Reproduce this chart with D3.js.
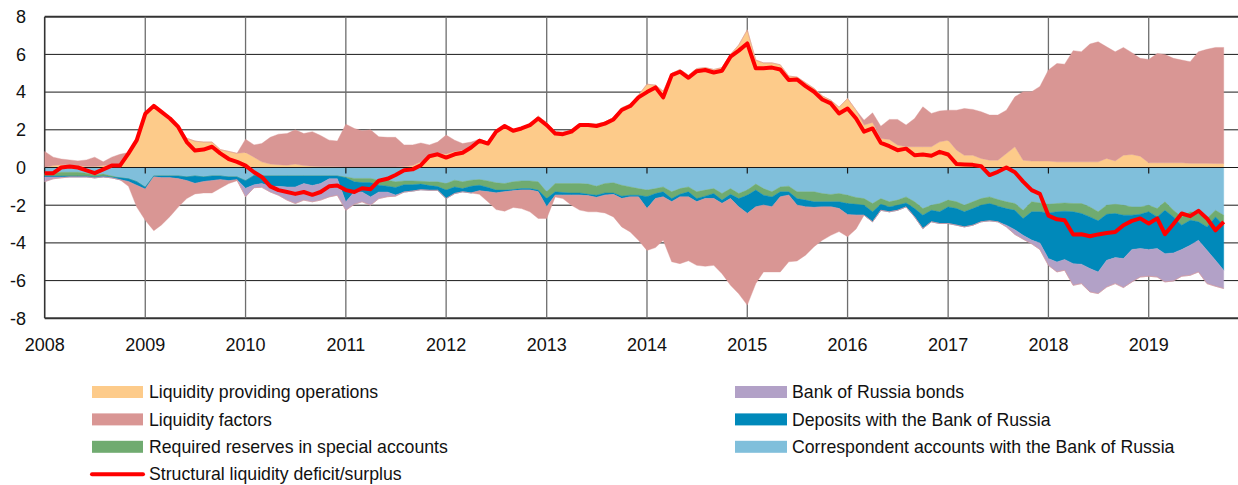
<!DOCTYPE html>
<html>
<head>
<meta charset="utf-8">
<script src="https://cdn.jsdelivr.net/npm/d3@7"></script>
<style>
  body { margin: 0; background: #fff; }
  svg text { font-family: "Liberation Sans", Arial, sans-serif; font-size: 18px; fill: #111; }
  svg text.legend { font-size: 17.7px; }
</style>
</head>
<body>
<div id="chart-area"></div>
<script>
// monthly points, Jan 2008 .. Oct 2019 (trillions of rubles)
var years = [2008, 2009, 2010, 2011, 2012, 2013, 2014, 2015, 2016, 2017, 2018, 2019];
var yTicks = [8, 6, 4, 2, 0, -2, -4, -6, -8];

var ops = [0, 0.1, 0.15, 0.15, 0.1, 0.05, 0.05, 0.1, 0.15, 0.15, 0.8, 1.5,
  2.9, 3.3, 3.0, 2.6, 2.2, 1.55, 1.4, 1.35, 1.35, 0.95, 0.85, 0.75,
  0.8, 0.55, 0.3, 0.18, 0.15, 0.12, 0.18, 0.1, 0.07, 0.05, 0.05, 0.04,
  0.03, 0.03, 0.02, 0.02, 0.02, 0.02, 0.02, 0.05, 0.1, 0.3, 0.6, 0.75,
  0.72, 0.85, 0.92, 1.1, 1.5, 1.36, 1.95, 2.25, 2.0, 2.12, 2.3, 2.73,
  2.37, 1.9, 1.88, 1.98, 2.33, 2.33, 2.3, 2.42, 2.65, 3.17, 3.36, 3.84,
  4.42, 4.37, 4.05, 5.0, 5.2, 4.9, 5.25, 5.3, 5.2, 5.3, 6.0, 6.5,
  7.3, 5.7, 5.55, 5.55, 5.45, 4.85, 4.8, 4.5, 4.2, 3.8, 3.57, 3.2,
  3.66, 3.04, 2.25, 2.39, 1.54, 1.49, 1.19, 1.1, 1.1, 1.1, 1.1, 1.36,
  1.45, 0.92, 0.65, 0.65, 0.48, 0.39, 0.39, 0.74, 1.1, 0.39, 0.34, 0.34,
  0.34, 0.3, 0.3, 0.3, 0.3, 0.3, 0.3, 0.48, 0.35, 0.65, 0.69, 0.6,
  0.25, 0.25, 0.25, 0.25, 0.25, 0.22, 0.22, 0.22, 0.21, 0.21];

var factors = [0.85, 0.45, 0.3, 0.25, 0.25, 0.35, 0.5, 0.2, 0.4, 0.55, -0.25, -1.15,
  -1.65, -2.85, -2.5, -2.05, -1.5, -0.95, -0.55, -0.6, -0.65, -0.45, -0.15, -0.05,
  0.7, 0.65, 0.97, 1.42, 1.62, 1.68, 1.82, 1.7, 1.83, 1.65, 1.4, 1.36,
  2.27, 2.04, 1.93, 1.98, 1.61, 1.58, 1.58, 1.15, 1.1, 1.0, 0.6, 0.6,
  1.0, 0.6, 0.35, 0.25, -0.18, -0.53, -0.88, -1.03, -0.88, -0.98, -1.15, -1.41,
  -0.61, -0.09, -0.18, -0.53, -0.79, -0.85, -0.76, -0.94, -1.19, -1.5, -1.86, -2.3,
  -2.22, -2.6, -2.3, -3.18, -3.54, -3.39, -3.37, -3.59, -3.54, -3.72, -4.6, -4.61,
  -4.86, -4.07, -3.54, -3.45, -3.98, -3.53, -2.96, -2.56, -2.08, -1.77, -1.51, -1.22,
  -1.17, -0.73, 0.26, 0.51, 0.65, 1.06, 1.36, 1.15, 1.5, 2.12, 1.77, 1.64,
  1.59, 2.12, 2.48, 2.43, 2.48, 2.39, 2.39, 2.3, 2.65, 3.63, 3.68, 3.96,
  4.83, 5.22, 5.18, 5.9, 5.84, 6.25, 6.37, 5.92, 5.79, 5.72, 5.4, 5.19,
  5.48, 5.8, 5.75, 5.54, 5.45, 5.39, 5.92, 6.05, 6.16, 6.16];

var corr = [-0.3, -0.3, -0.25, -0.25, -0.25, -0.3, -0.4, -0.35, -0.45, -0.55, -0.6, -0.75,
  -1.05, -0.45, -0.45, -0.45, -0.45, -0.5, -0.45, -0.5, -0.45, -0.45, -0.5, -0.5,
  -0.7, -0.42, -0.45, -0.45, -0.45, -0.45, -0.45, -0.45, -0.45, -0.45, -0.45, -0.45,
  -0.5, -0.58, -0.58, -0.58, -0.67, -0.67, -0.76, -0.71, -0.71, -0.73, -0.76, -0.76,
  -0.85, -0.67, -0.76, -0.67, -0.64, -0.71, -0.81, -0.85, -0.76, -0.71, -0.71, -0.76,
  -1.29, -0.85, -0.85, -0.85, -0.85, -0.88, -0.99, -0.85, -0.81, -0.94, -1.03, -1.12,
  -1.2, -1.12, -1.03, -1.29, -1.12, -1.03, -1.29, -1.2, -1.12, -1.38, -1.12, -1.38,
  -1.2, -0.88, -1.12, -1.29, -1.03, -0.99, -1.29, -1.29, -1.29, -1.38, -1.43, -1.38,
  -1.47, -1.59, -1.65, -1.91, -1.65, -1.82, -1.73, -1.56, -1.82, -2.18, -2.0, -1.91,
  -1.73, -1.82, -2.0, -1.82, -1.65, -1.56, -1.7, -1.82, -1.91, -2.27, -1.82, -1.88,
  -1.95, -1.91, -1.88, -1.91, -1.91, -2.09, -2.35, -2.0, -1.95, -2.0, -2.09, -2.09,
  -2.0, -2.18, -1.82, -2.27, -2.62, -2.35, -2.44, -2.71, -2.27, -2.53];

var reserves = [-0.15, -0.15, -0.2, -0.2, -0.2, -0.15, -0.1, -0.1, -0.05, 0, 0, 0,
  0, 0, 0, 0, 0, 0, 0, 0, 0, 0, 0, 0,
  0, 0, 0, 0, 0, 0, 0, 0, 0, 0, 0, 0,
  -0.05, -0.18, -0.22, -0.22, -0.27, -0.32, -0.3, -0.2, -0.2, -0.15, -0.2, -0.25,
  -0.35, -0.36, -0.36, -0.32, -0.3, -0.35, -0.39, -0.35, -0.41, -0.41, -0.41, -0.44,
  -0.36, -0.44, -0.48, -0.5, -0.5, -0.54, -0.48, -0.5, -0.54, -0.58, -0.44, -0.35,
  -0.35, -0.26, -0.26, -0.36, -0.3, -0.26, -0.36, -0.32, -0.26, -0.35, -0.3, -0.27,
  -0.27, -0.32, -0.35, -0.27, -0.26, -0.3, -0.36, -0.44, -0.53, -0.44, -0.39, -0.44,
  -0.44, -0.36, -0.35, -0.44, -0.3, -0.27, -0.27, -0.32, -0.36, -0.35, -0.27, -0.44,
  -0.36, -0.36, -0.35, -0.36, -0.35, -0.35, -0.35, -0.36, -0.36, -0.44, -0.53, -0.47,
  -0.46, -0.44, -0.44, -0.44, -0.53, -0.53, -0.48, -0.48, -0.49, -0.53, -0.44, -0.39,
  -0.35, -0.44, -0.45, -0.35, -0.44, -0.45, -0.44, -0.44, -0.35, -0.53];

var deposits = [-0.05, -0.05, -0.05, -0.05, -0.05, -0.05, -0.05, -0.05, -0.05, -0.1, -0.15, -0.2,
  -0.1, -0.05, -0.1, -0.1, -0.15, -0.2, -0.4, -0.25, -0.25, -0.2, -0.2, -0.15,
  -0.4, -0.5, -0.4, -0.55, -0.55, -0.58, -0.58, -0.4, -0.5, -0.4, -0.15, -0.15,
  -1.27, -0.53, -0.5, -0.76, -0.36, -0.31, -0.4, -0.39, -0.34, -0.3, -0.25, -0.2,
  -0.45, -0.35, -0.17, -0.36, -0.3, -0.23, -0.15, -0.09, -0.07, -0.08, -0.08, -0.09,
  -0.44, -0.18, -0.14, -0.12, -0.12, -0.08, -0.12, -0.12, -0.08, -0.13, -0.09, -0.09,
  -0.63, -0.27, -0.27, -0.17, -0.14, -0.27, -0.17, -0.13, -0.27, -0.18, -0.23, -0.44,
  -0.97, -0.89, -0.53, -0.53, -0.27, -0.18, -0.35, -0.36, -0.3, -0.27, -0.27, -0.36,
  -0.59, -0.58, -0.53, -0.53, -0.32, -0.26, -0.27, -0.21, -0.44, -0.71, -0.61, -0.62,
  -0.88, -0.88, -0.8, -0.88, -0.88, -0.92, -0.83, -0.88, -1.03, -0.89, -1.5, -1.65,
  -2.42, -2.66, -2.56, -2.75, -2.69, -2.74, -2.71, -2.44, -2.34, -2.3, -1.82, -1.82,
  -2.0, -1.68, -2.3, -1.91, -1.29, -1.32, -0.98, -1.24, -2.3, -2.39];

var bonds = [-0.25, -0.1, -0.05, 0, 0, 0, 0, 0, 0, 0, 0, 0,
  0, 0, 0, 0, 0, 0, 0, 0, 0, 0, 0, 0,
  -0.45, -0.15, -0.2, -0.3, -0.47, -0.7, -0.88, -0.88, -0.87, -0.88, -0.96, -0.87,
  -0.45, -0.66, -0.52, -0.44, -0.35, -0.25, -0.06, 0, 0, 0, 0, 0,
  0, 0, 0, 0, 0, 0, 0, 0, 0, 0, 0, 0,
  0, 0, 0, 0, 0, 0, 0, 0, 0, 0, 0, 0,
  0, 0, 0, 0, 0, 0, 0, 0, 0, 0, 0, 0,
  0, 0, 0, 0, 0, 0, 0, 0, 0, 0, 0, 0,
  0, 0, 0, 0, 0, 0, 0, 0, 0, 0, 0, 0,
  0, 0, 0, 0, 0, 0, 0, -0.09, -0.25, -0.2, -0.2, -0.35,
  -0.36, -0.53, -0.57, -1.15, -1.03, -1.24, -1.15, -1.42, -1.38, -1.54, -1.72, -1.51,
  -1.42, -1.51, -1.5, -1.49, -1.42, -1.6, -1.68, -1.77, -1.38, -0.97];

var deficit = [-0.3, -0.3, 0.0, 0.05, 0.0, -0.15, -0.3, -0.1, 0.1, 0.1, 0.75, 1.45,
  2.85, 3.27, 2.95, 2.6, 2.15, 1.35, 0.9, 0.95, 1.1, 0.75, 0.45, 0.3,
  0.1, -0.25, -0.5, -1.0, -1.2, -1.3, -1.4, -1.3, -1.45, -1.3, -1.0, -0.95,
  -1.2, -1.3, -1.1, -1.15, -0.7, -0.6, -0.4, -0.15, -0.1, 0.12, 0.6, 0.7,
  0.53, 0.7, 0.78, 1.06, 1.42, 1.27, 1.9, 2.2, 1.95, 2.07, 2.25, 2.6,
  2.25, 1.8, 1.77, 1.9, 2.25, 2.25, 2.2, 2.33, 2.55, 3.05, 3.26, 3.72,
  4.0, 4.25, 3.72, 4.9, 5.08, 4.76, 5.11, 5.17, 5.04, 5.13, 5.88, 6.2,
  6.58, 5.26, 5.26, 5.3, 5.2, 4.64, 4.67, 4.32, 4.02, 3.61, 3.4, 2.87,
  3.13, 2.6, 1.9, 2.07, 1.31, 1.13, 0.92, 1.0, 0.65, 0.69, 0.62, 0.83,
  0.69, 0.18, 0.16, 0.14, 0.07, -0.4, -0.23, 0.0, -0.25, -0.75, -1.2, -1.4,
  -2.55, -2.75, -2.8, -3.55, -3.54, -3.65, -3.55, -3.47, -3.42, -3.06, -2.83, -2.7,
  -2.97, -2.7, -3.54, -3.0, -2.44, -2.58, -2.3, -2.7, -3.33, -2.88];

var months = d3.timeMonth.range(new Date(2008, 0, 1), new Date(2019, 10, 1));

var color = {
  ops: "#FDCB8A", factorsPos: "#D99694", factorsNeg: "#D99694",
  reserves: "#70AB70", bonds: "#B2A1C7", deposits: "#0089BA", corr: "#80BFDB"
};

var legendLeft = [
  {label: "Liquidity providing operations", key: "ops"},
  {label: "Liquidity factors", key: "factorsPos"},
  {label: "Required reserves in special accounts", key: "reserves"},
  {label: "Structural liquidity deficit/surplus", key: "line"}
];
var legendRight = [
  {label: "Bank of Russia bonds", key: "bonds"},
  {label: "Deposits with the Bank of Russia", key: "deposits"},
  {label: "Correspondent accounts with the Bank of Russia", key: "corr"}
];

var width = 1238, height = 485;
var svg = d3.select("#chart-area").append("svg").attr("width", width).attr("height", height);

var x = d3.scaleTime().domain([new Date(2008, 0, 1), new Date(2020, 0, 1)]).range([44.7, 1249]);
var y = d3.scaleLinear().domain([-8, 8]).range([318.3, 16.7]);
var yearDate = function(yr) { return new Date(yr, 0, 1); };

// grid
svg.append("g").selectAll("line").data(yTicks).enter().append("line")
  .attr("x1", x(yearDate(2008))).attr("x2", width)
  .attr("y1", function(d) { return y(d); }).attr("y2", function(d) { return y(d); })
  .attr("stroke", function(d) { return (d == 8 || d == -8) ? "#333" : "#1a1a1a"; })
  .attr("stroke-width", function(d) { return (d == 8 || d == -8) ? 2 : 1; });

svg.append("g").selectAll("line").data(years).enter().append("line")
  .attr("x1", function(d) { return x(yearDate(d)); }).attr("x2", function(d) { return x(yearDate(d)); })
  .attr("y1", y(8)).attr("y2", y(-8))
  .attr("stroke", function(d) { return d == 2008 ? "#333" : "#6e6e6e"; })
  .attr("stroke-width", function(d) { return d == 2008 ? 1.6 : 1.3; });

// stacked areas, positive parts above zero and negative parts below
var eps = 1e-6;
var rows = months.map(function(d, i) {
  return {
    date: d,
    ops: Math.max(ops[i], eps),
    factorsPos: Math.max(factors[i], eps),
    corr: Math.min(corr[i], -eps),
    reserves: Math.min(reserves[i], -eps),
    deposits: Math.min(deposits[i], -eps),
    bonds: Math.min(bonds[i], -eps),
    factorsNeg: Math.min(factors[i], -eps)
  };
});
var keys = ["ops", "factorsPos", "corr", "reserves", "deposits", "bonds", "factorsNeg"];
var layers = d3.stack().keys(keys).offset(d3.stackOffsetDiverging)(rows);

var area = d3.area()
  .x(function(d) { return x(d.data.date); })
  .y0(function(d) { return y(d[0]); })
  .y1(function(d) { return y(d[1]); });

svg.append("g").selectAll("path").data(layers).enter().append("path")
  .attr("d", area)
  .attr("fill", function(d) { return color[d.key]; })
  .attr("stroke", function(d) { return color[d.key]; })
  .attr("stroke-width", 0.4);

// zero axis with ticks
var axis = svg.append("g").attr("transform", "translate(0," + y(0) + ")");
axis.append("line").attr("x1", x(yearDate(2008))).attr("x2", width)
  .attr("stroke", "#1a1a1a").attr("stroke-width", 1.2);
axis.selectAll(".tick").data(years).enter().append("line")
  .attr("x1", function(d) { return x(yearDate(d)); }).attr("x2", function(d) { return x(yearDate(d)); })
  .attr("y1", 0).attr("y2", 6).attr("stroke", "#1a1a1a").attr("stroke-width", 1.2);

// structural deficit line
var line = d3.line()
  .x(function(d, i) { return x(months[i]); })
  .y(function(d) { return y(d); });
svg.append("path").datum(deficit)
  .attr("d", line)
  .attr("fill", "none")
  .attr("stroke", "#FF0000")
  .attr("stroke-width", 4)
  .attr("stroke-linejoin", "round");

// labels
svg.append("g").selectAll("text").data(yTicks).enter().append("text")
  .attr("x", 26).attr("y", function(d) { return y(d); }).attr("dy", "0.35em")
  .attr("text-anchor", "end")
  .text(function(d) { return d; });

svg.append("g").selectAll("text").data(years).enter().append("text")
  .attr("x", function(d) { return x(yearDate(d)); }).attr("y", 351)
  .attr("text-anchor", "middle")
  .text(function(d) { return d; });

// legend
function drawLegend(items, x0, sw, tx) {
  var g = svg.append("g");
  items.forEach(function(it, i) {
    var cy = 392 + i * 27.4;
    if (it.key == "line") {
      g.append("line").attr("x1", x0).attr("x2", x0 + sw).attr("y1", cy).attr("y2", cy)
        .attr("stroke", "#FF0000").attr("stroke-width", 4).attr("stroke-linecap", "round");
    } else {
      g.append("rect").attr("x", x0).attr("y", cy - 6).attr("width", sw).attr("height", 12)
        .attr("fill", color[it.key]);
    }
    g.append("text").attr("class", "legend").attr("x", tx).attr("y", cy).attr("dy", "0.35em").text(it.label);
  });
}
drawLegend(legendLeft, 92, 51, 149);
drawLegend(legendRight, 735, 52, 792);
</script>
</body>
</html>
